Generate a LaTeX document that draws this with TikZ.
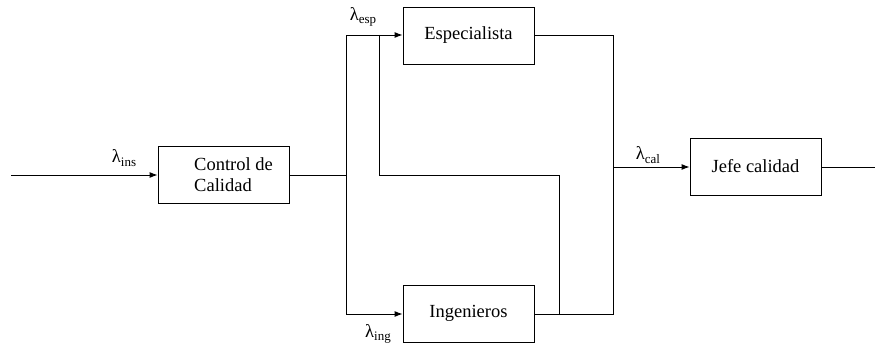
\documentclass[tikz,border=0pt]{standalone}
\usepackage{fontspec}
\setmainfont{Liberation Serif}
\usetikzlibrary{arrows.meta}
\newcommand{\lam}[1]{{\fontsize{18.5}{20}\selectfont λ}\raisebox{-3.5pt}{\fontsize{13}{13}\selectfont #1}}
\begin{document}
\begin{tikzpicture}[x=1pt,y=-1pt,
  blk/.style={draw, line width=0.9pt, minimum width=131pt, minimum height=57pt, inner sep=0pt,
    font=\fontsize{18.5}{21}\selectfont},
  wire/.style={line width=0.9pt},
  arr/.style={wire, -{Latex[length=8pt,width=6pt]}},
  lbl/.style={inner sep=0pt}]
\useasboundingbox (0,0) rectangle (875,350);
% boxes
\node[blk] (ctrl) at (223.5,174.5) {};
\node[anchor=west, align=left, inner sep=0pt, font=\fontsize{18.5}{21}\selectfont] (ctrltxt) at (194,174.5) {Control de\\Calidad};
\node[blk] (esp) at (468.5,35.5) {Especialista};
\node[blk] (ing) at (468.5,313.5) {Ingenieros};
\node[blk] (jefe) at (755.5,166.5) {Jefe calidad};
% coordinates
\coordinate (in) at (11,175);
\coordinate (j1) at (346,175);
\coordinate (t1) at (379,35);
\coordinate (t2) at (379,175);
\coordinate (t3) at (559,175);
\coordinate (t4) at (559,314);
\coordinate (r1) at (613,35);
\coordinate (r2) at (613,314);
\coordinate (r3) at (613,167);
\coordinate (out) at (875,167);
% connectors
\draw[arr] (in) -- (ctrl.west |- in);
\draw[wire] (ctrl.east |- j1) -- (j1);
\draw[arr] (j1) |- (esp.west |- t1);
\draw[arr] (j1) |- (ing.west |- t4);
\draw[wire] (t1) -- (t2) -- (t3) -- (t4);
\draw[wire] (esp.east |- r1) -- (r1) -- (r2) -- (ing.east |- r2);
\draw[arr] (r3) -- (jefe.west |- r3);
\draw[wire] (jefe.east |- out) -- (out);
% labels
\node[lbl] (lins) at (124,158) {\lam{ins}};
\node[lbl] (lesp) at (363,17) {\lam{esp}};
\node[lbl] (ling) at (378,334) {\lam{ing}};
\node[lbl] (lcal) at (648,155) {\lam{cal}};
\end{tikzpicture}
\end{document}
